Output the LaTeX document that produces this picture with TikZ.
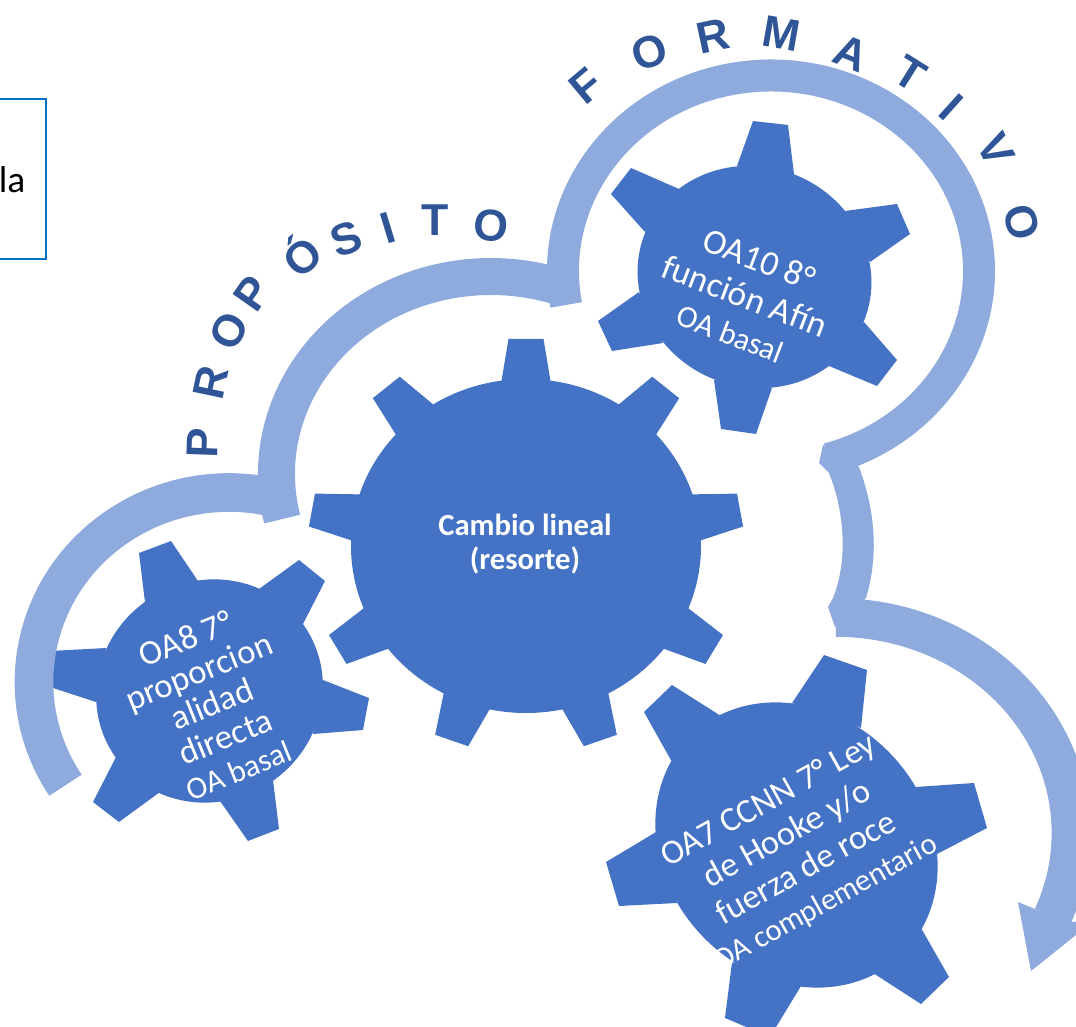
\documentclass[tikz,border=0pt]{standalone}
\usepackage{fontspec}
\setmainfont{Carlito}
\newfontfamily\arcfont{Liberation Sans}
\definecolor{gearblue}{HTML}{4472C4}
\definecolor{bandblue}{HTML}{8FAADC}
\definecolor{letterblue}{HTML}{2F5597}
\definecolor{boxblue}{HTML}{0070C0}

\begin{document}
\begin{tikzpicture}[x=0.75pt,y=-0.75pt]
\tikzstyle{gear}=[fill=gearblue]
\tikzstyle{band}=[draw=bandblue]
\tikzstyle{bandfill}=[fill=bandblue]
\tikzstyle{gearlabel}=[text=white,align=center,inner sep=0pt]
\tikzstyle{arcletter}=[text=letterblue,inner sep=0pt,text height=24pt,text depth=0pt,font=\arcfont\bfseries\fontsize{33.5}{33.5}\selectfont]
\useasboundingbox (0,0) rectangle (1076,1027);

% centre gear
\fill[gear] (526,546) ellipse [x radius=175,y radius=167];
\foreach \a in {0,40,...,320}
  \fill[gear,shift={(526,546)},xscale=1.05,rotate=\a] (-23.5,-164)--(-16.7,-207)--(16.7,-207)--(23.5,-164)--cycle;

% OA8
\fill[gear,shift={(209.5,691)},rotate=35] (0,0) ellipse [x radius=115,y radius=110];
\fill[gear]
 (145,602)--(139,553)--(171,541)--(198,581)--cycle
 (259,589)--(299,560)--(325,581)--(303,624)--cycle
 (323,680)--(369,698)--(363,730)--(313,734)--cycle
 (273,780)--(279,829)--(248,841)--(220,801)--cycle
 (160,792)--(119,822)--(93,802)--(116,757)--cycle
 (96,702)--(50,687)--(50,651)--(106,648)--cycle
 ;

% OA10
\fill[gear,shift={(754.5,277)},rotate=-22] (0,0) ellipse [x radius=118,y radius=110];
\fill[gear]
 (737,166)--(753,121)--(788,125)--(794,174)--cycle
 (845,211)--(897,204)--(910,234)--(870,262)--cycle
 (864,322)--(897,360)--(877,386)--(829,366)--cycle
 (772,388)--(756,434)--(721,429)--(714,380)--cycle
 (663,343)--(612,351)--(598,321)--(639,292)--cycle
 (645,232)--(611,194)--(631,168)--(679,189)--cycle
 ;

% OA7
\fill[gear,shift={(796.5,845)},rotate=-47] (0,0) ellipse [x radius=152,y radius=131];
\fill[gear]
 (792,703)--(824,655)--(867,670)--(861,728)--cycle
 (916,787)--(974,783)--(987,828)--(937,854)--cycle
 (921,928)--(949,977)--(921,1004)--(873,973)--cycle
 (801,986)--(770,1037)--(725,1018)--(732,962)--cycle
 (677,903)--(619,906)--(606,862)--(656,832)--cycle
 (672,762)--(644,712)--(672,685)--(721,716)--cycle
 ;

% bands
\draw[band,line width=29pt] (229,682) ++(147:195 and 189.5) arc [start angle=147,end angle=285,x radius=195,y radius=189.5];
\draw[band,line width=27.75pt] (491,474) ++(166.8:214.5 and 197.5) arc [start angle=166.8,end angle=290,x radius=214.5,y radius=197.5];
\draw[band,line width=24pt] (771,271) ++(170:208 and 195.5) arc [start angle=170,end angle=434,x radius=208,y radius=195.5];
\fill[bandfill] (823,445)--(819,463)--(829,473) .. controls (842,505) and (850,555) .. (833,598)--(828,607)--(835,627)--(866,598) .. controls (879,555) and (875,510) .. (859,467)--cycle;
\draw[band,line width=29pt] (836,833) ++(270:235 and 215.5) arc [start angle=270,end angle=382.8,x radius=235,y radius=215.5];
\fill[bandfill] (1018,902)--(1031,971)--(1096,919)--(1072,922)--(1035,909)--cycle;

% box
\node[draw=boxblue,line width=1.1pt,anchor=north west,minimum width=58pt,minimum height=120pt,inner sep=0pt] (box) at (-32,98.5) {};
\node[anchor=base east,inner sep=0pt,font=\fontsize{28}{28}\selectfont] (la) at (25.5,193) {la};

% letters on the bands
\foreach \l/\x/\y/\r [count=\i] in {
 P/202/443/88, R/210/382/78, O/229/331/62, P/252/293/55, Ó/303/257/40,
 S/346/238/20, I/388/227/17, T/435/220/0, O/491/225/-5}
  \node[arcletter,rotate=\r] (prop\i) at (\x,\y) {\l};
\foreach \l/\x/\y/\r [count=\i] in {
 F/586/85/40, O/649/52/20, R/713/35/12, M/782/33/-10, A/851/53/-22,
 T/911/73/-32, I/952/107/-42, V/997/150/-63, O/1022/222/-75}
  \node[arcletter,rotate=\r] (form\i) at (\x,\y) {\l};

% gear texts
\node[gearlabel,font=\bfseries\fontsize{23}{25.5}\selectfont] (cambio) at (525,544) {Cambio lineal\\(resorte)};
\node[gearlabel,rotate=-21,font=\fontsize{26.5}{29.5}\selectfont] (oa10) at (745,296) {OA10 8°\\función Afín\\{\fontsize{23.5}{29.5}\selectfont OA basal}};
\node[gearlabel,rotate=22,font=\fontsize{26}{26.5}\selectfont] (oa8) at (212,704) {OA8 7°\\proporcion\\alidad\\directa\\{\fontsize{23.5}{24}\selectfont OA basal}};
\node[gearlabel,rotate=29,font=\fontsize{25.8}{29}\selectfont] (oa7) at (797,852) {OA7 CCNN 7° Ley\\de Hooke y/o\\fuerza de roce\\{\fontsize{23}{29}\selectfont OA complementario}};
\end{tikzpicture}
\end{document}
